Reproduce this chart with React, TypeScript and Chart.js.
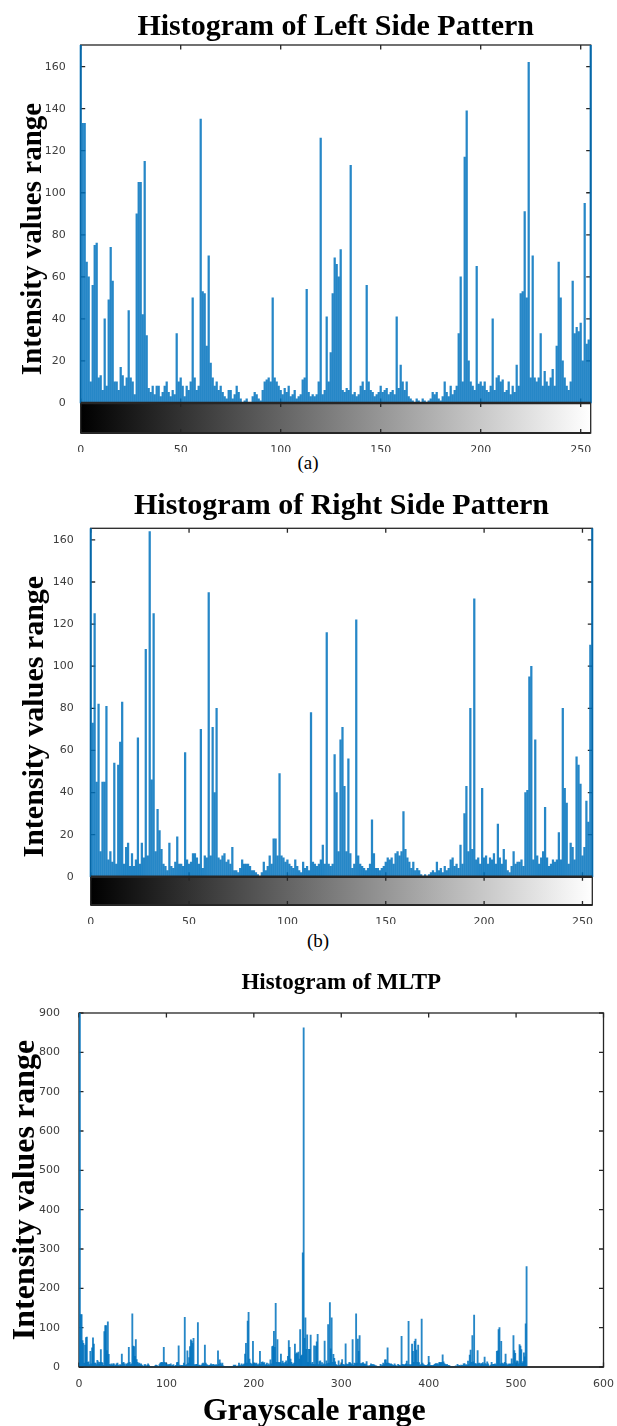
import React, { useEffect, useRef } from 'react';
import { Chart, registerables } from 'chart.js';

Chart.register(...registerables);

// ---------- data ----------
// Histogram of Left Side Pattern, bins 0..255
const leftValues = [
  950, 133, 133, 67, 60, 10, 56, 75, 76, 12, 13, 6, 40, 8, 49, 74,
  58, 10, 10, 6, 17, 13, 8, 12, 44, 12, 10, 4, 90, 105, 105, 42,
  115, 32, 7, 5, 8, 4, 8, 8, 3, 5, 8, 10, 5, 3, 6, 4,
  33, 10, 12, 8, 3, 8, 6, 10, 50, 12, 6, 8, 135, 53, 52, 27,
  70, 19, 12, 8, 10, 6, 8, 5, 3, 2, 6, 6, 2, 4, 8, 5,
  2, 0, 1, 2, 0, 0, 3, 5, 4, 2, 1, 6, 10, 11, 12, 10,
  50, 12, 10, 8, 6, 4, 7, 5, 8, 3, 4, 6, 2, 3, 4, 11,
  12, 54, 5, 3, 4, 3, 4, 10, 126, 4, 6, 41, 10, 24, 52, 69,
  66, 60, 73, 6, 5, 7, 6, 113, 4, 5, 3, 4, 8, 10, 6, 56,
  10, 6, 5, 3, 4, 5, 8, 5, 6, 7, 4, 5, 6, 4, 41, 7,
  18, 10, 6, 10, 3, 2, 1, 0, 2, 1, 0, 2, 1, 0, 1, 2,
  5, 4, 5, 2, 1, 3, 10, 5, 3, 8, 4, 6, 8, 33, 60, 10,
  117, 139, 20, 10, 8, 6, 65, 9, 10, 8, 10, 6, 5, 8, 40, 6,
  12, 13, 10, 11, 5, 6, 10, 4, 8, 5, 18, 8, 52, 53, 91, 50,
  162, 12, 70, 12, 10, 12, 33, 8, 15, 10, 8, 12, 16, 8, 27, 67,
  50, 20, 12, 8, 6, 10, 58, 33, 36, 34, 38, 20, 95, 28, 30, 290,
];

// Histogram of Right Side Pattern, bins 0..255
const rightValues = [
  862, 73, 125, 45, 82, 12, 45, 45, 81, 8, 12, 7, 54, 6, 53, 64,
  83, 6, 14, 16, 5, 11, 5, 8, 66, 6, 16, 9, 108, 10, 164, 46,
  125, 12, 32, 22, 13, 6, 5, 3, 16, 5, 4, 7, 19, 6, 6, 5,
  59, 8, 6, 7, 11, 11, 9, 6, 70, 4, 10, 9, 135, 10, 71, 40,
  80, 9, 8, 10, 11, 7, 8, 6, 14, 3, 3, 2, 4, 8, 6, 6,
  6, 5, 3, 3, 2, 1, 0, 2, 7, 3, 5, 10, 6, 18, 18, 10,
  49, 10, 9, 7, 8, 6, 5, 4, 8, 5, 3, 2, 7, 4, 5, 3,
  78, 7, 6, 5, 6, 8, 15, 6, 116, 6, 5, 6, 58, 40, 12, 65,
  71, 43, 12, 56, 11, 4, 6, 122, 10, 6, 5, 4, 3, 4, 6, 27,
  11, 4, 4, 3, 4, 5, 7, 9, 8, 9, 6, 11, 12, 10, 12, 31,
  13, 9, 7, 4, 7, 3, 4, 3, 1, 0, 1, 0, 1, 2, 3, 2,
  7, 3, 4, 2, 5, 3, 4, 8, 9, 5, 6, 4, 15, 6, 30, 43,
  12, 80, 13, 132, 8, 9, 6, 42, 9, 10, 6, 9, 8, 11, 6, 25,
  9, 6, 13, 8, 3, 2, 5, 12, 6, 7, 7, 8, 5, 40, 41, 95,
  100, 8, 65, 10, 6, 9, 12, 33, 9, 5, 6, 8, 7, 8, 21, 8,
  80, 42, 35, 6, 16, 14, 8, 57, 53, 44, 10, 14, 36, 26, 110, 255,
];

// MLTP histogram: the left histogram followed by the right one (bins 1..512)
const mltpValues = [...leftValues, ...rightValues];

const patternBins = leftValues.map((_, i) => i);
const mltpBins = mltpValues.map((_, i) => i + 1);

const patternXTicks = [0, 50, 100, 150, 200, 250];
const patternYTicks = [0, 20, 40, 60, 80, 100, 120, 140, 160];
const mltpXTicks = [0, 100, 200, 300, 400, 500, 600];
const mltpYTicks = [0, 100, 200, 300, 400, 500, 600, 700, 800, 900];

// ---------- styles ----------
const BAR_COLOR = 'rgba(0, 114, 189, 0.85)';
const AXIS_COLOR = '#262626';
const TICK_COLOR = '#3c3c3c';
const SERIF = "'Liberation Serif', 'Times New Roman', serif";
const TICK_FONT = { family: "'DejaVu Sans', sans-serif", size: 11 };

const framePlugin = {
  id: 'matlabFrame',
  beforeDatasetsDraw(chart: any, _args: any, opts: any) {
    const { ctx, chartArea: a, scales } = chart;
    const xs = scales.x;
    const ys = scales.y;
    const yBase = opts.colorbar ? ys.getPixelForValue(0) : a.bottom;
    const tl = opts.tickLen;
    ctx.save();
    if (opts.colorbar) {
      const x0 = xs.getPixelForValue(opts.xMin);
      const x1 = xs.getPixelForValue(opts.xMax);
      const g = ctx.createLinearGradient(x0, 0, x1, 0);
      g.addColorStop(0, '#000000');
      g.addColorStop(1, '#ffffff');
      ctx.fillStyle = g;
      ctx.fillRect(x0, yBase, x1 - x0, a.bottom - yBase);
    }
    ctx.strokeStyle = AXIS_COLOR;
    ctx.lineWidth = 1.3;
    ctx.strokeRect(a.left, a.top, a.right - a.left, a.bottom - a.top);
    ctx.beginPath();
    for (const v of opts.xTicks) {
      const px = xs.getPixelForValue(v);
      ctx.moveTo(px, a.top);
      ctx.lineTo(px, a.top + tl);
      ctx.moveTo(px, yBase);
      ctx.lineTo(px, yBase - tl);
      if (opts.colorbar) {
        ctx.moveTo(px, yBase);
        ctx.lineTo(px, yBase + 4);
        ctx.moveTo(px, a.bottom);
        ctx.lineTo(px, a.bottom - 4);
      }
    }
    for (const v of opts.yTicks) {
      const py = ys.getPixelForValue(v);
      ctx.moveTo(a.left, py);
      ctx.lineTo(a.left + tl, py);
      ctx.moveTo(a.right, py);
      ctx.lineTo(a.right - tl, py);
    }
    ctx.stroke();
    ctx.restore();
  },
  afterDatasetsDraw(chart: any, _args: any, opts: any) {
    const { ctx, chartArea: a, scales } = chart;
    ctx.save();
    ctx.strokeStyle = AXIS_COLOR;
    if (opts.colorbar) {
      const yBase = scales.y.getPixelForValue(0);
      ctx.lineWidth = 2.6;
      ctx.beginPath();
      ctx.moveTo(a.left, yBase);
      ctx.lineTo(a.right, yBase);
      ctx.stroke();
      ctx.lineWidth = 2;
      ctx.beginPath();
      ctx.moveTo(a.left, a.bottom);
      ctx.lineTo(a.right, a.bottom);
      ctx.stroke();
    } else {
      ctx.lineWidth = 1.5;
      ctx.beginPath();
      ctx.moveTo(a.left, a.bottom);
      ctx.lineTo(a.right, a.bottom);
      ctx.stroke();
    }
    ctx.restore();
  },
  afterDraw(chart: any, _args: any, opts: any) {
    if (!opts.xTitle) return;
    const { ctx, chartArea: a } = chart;
    ctx.save();
    ctx.fillStyle = '#000';
    ctx.font = `bold ${opts.xTitle.size}px ${SERIF}`;
    ctx.textAlign = 'center';
    ctx.textBaseline = 'middle';
    ctx.fillText(opts.xTitle.text, (a.left + a.right) / 2 + opts.xTitle.dx, opts.xTitle.y);
    ctx.restore();
  },
};

type HistSpec = {
  bins: number[];
  values: number[];
  title: string;
  titleSize: number;
  titleTop: number;
  titleBottom: number;
  xMin: number;
  xMax: number;
  yMin: number;
  yMax: number;
  xTicks: number[];
  yTicks: number[];
  yAxisWidth: number;
  xAxisHeight: number;
  padRight: number;
  yTickPad: number;
  xTickPad: number;
  yTitleSize: number;
  yTitlePad: number;
  barThickness: number;
  colorbar: boolean;
  xTitle?: { text: string; size: number; dx: number; y: number };
};

function buildConfig(s: HistSpec): any {
  return {
    type: 'bar',
    data: {
      datasets: [
        {
          data: s.bins.map((b, i) => ({ x: b, y: s.values[i] })),
          backgroundColor: BAR_COLOR,
          borderWidth: 0,
          barThickness: s.barThickness,
          clip: { left: 1.5, right: 1.5, top: 0, bottom: 0 },
        },
      ],
    },
    options: {
      animation: false,
      responsive: false,
      maintainAspectRatio: false,
      events: [],
      layout: { padding: { left: 0, right: s.padRight, top: 0, bottom: 0 } },
      plugins: {
        legend: { display: false },
        tooltip: { enabled: false },
        title: {
          display: true,
          text: s.title,
          fullSize: false,
          color: '#000',
          font: { family: SERIF, size: s.titleSize, weight: 'bold' },
          padding: { top: s.titleTop, bottom: s.titleBottom },
        },
        matlabFrame: {
          colorbar: s.colorbar,
          xMin: s.xMin,
          xMax: s.xMax,
          xTicks: s.xTicks,
          yTicks: s.yTicks,
          tickLen: 4.5,
          xTitle: s.xTitle,
        },
      },
      scales: {
        x: {
          type: 'linear',
          min: s.xMin,
          max: s.xMax,
          offset: false,
          grid: { display: false },
          border: { display: false },
          ticks: {
            font: TICK_FONT,
            color: TICK_COLOR,
            padding: s.xTickPad,
            maxRotation: 0,
            autoSkip: false,
          },
          afterBuildTicks: (scale: any) => {
            scale.ticks = s.xTicks.map((v) => ({ value: v }));
          },
          afterFit: (scale: any) => {
            scale.height = s.xAxisHeight;
          },
        },
        y: {
          type: 'linear',
          min: s.yMin,
          max: s.yMax,
          grid: { display: false },
          border: { display: false },
          ticks: {
            font: TICK_FONT,
            color: TICK_COLOR,
            padding: s.yTickPad,
          },
          afterBuildTicks: (scale: any) => {
            scale.ticks = s.yTicks.map((v) => ({ value: v }));
          },
          afterFit: (scale: any) => {
            scale.width = s.yAxisWidth;
          },
          title: {
            display: true,
            text: 'Intensity values range',
            color: '#000',
            font: { family: SERIF, size: s.yTitleSize, weight: 'bold' },
            padding: { top: s.yTitlePad, bottom: 0 },
          },
        },
      },
    },
    plugins: [framePlugin],
  };
}

function HistCanvas({ spec, top, height }: { spec: HistSpec; top: number; height: number }) {
  const ref = useRef<HTMLCanvasElement | null>(null);
  useEffect(() => {
    if (!ref.current) return;
    const chart = new Chart(ref.current, buildConfig(spec));
    return () => chart.destroy();
  }, [spec]);
  return (
    <canvas
      ref={ref}
      width={617}
      height={height}
      style={{ position: 'absolute', left: 0, top, width: 617, height }}
    />
  );
}

const leftSpec: HistSpec = {
  bins: patternBins,
  values: leftValues,
  title: 'Histogram of Left Side Pattern',
  titleSize: 30,
  titleTop: 9,
  titleBottom: 0,
  xMin: 0,
  xMax: 255,
  yMin: -14.3,
  yMax: 170.3,
  xTicks: patternXTicks,
  yTicks: patternYTicks,
  yAxisWidth: 80.7,
  xAxisHeight: 19,
  padRight: 26.3,
  yTickPad: 7,
  xTickPad: 3,
  yTitleSize: 29,
  yTitlePad: 16,
  barThickness: 1.6,
  colorbar: true,
};

const rightSpec: HistSpec = {
  bins: patternBins,
  values: rightValues,
  title: 'Histogram of Right Side Pattern',
  titleSize: 30,
  titleTop: 8,
  titleBottom: 4.3,
  xMin: 0,
  xMax: 255,
  yMin: -13.4,
  yMax: 165.5,
  xTicks: patternXTicks,
  yTicks: patternYTicks,
  yAxisWidth: 90.7,
  xAxisHeight: 19,
  padRight: 24.7,
  yTickPad: 9,
  xTickPad: 3,
  yTitleSize: 30,
  yTitlePad: 17,
  barThickness: 1.6,
  colorbar: true,
};

const mltpSpec: HistSpec = {
  bins: mltpBins,
  values: mltpValues,
  title: 'Histogram of MLTP',
  titleSize: 23,
  titleTop: 14,
  titleBottom: 16.4,
  xMin: 0,
  xMax: 600,
  yMin: 0,
  yMax: 900,
  xTicks: mltpXTicks,
  yTicks: mltpYTicks,
  yAxisWidth: 79,
  xAxisHeight: 59,
  padRight: 12,
  yTickPad: 11,
  xTickPad: 3,
  yTitleSize: 32,
  yTitlePad: 7,
  barThickness: 1.2,
  colorbar: false,
  xTitle: { text: 'Grayscale range', size: 32, dx: -27, y: 457 },
};

const captionStyle: React.CSSProperties = {
  position: 'absolute',
  fontFamily: SERIF,
  fontSize: 19,
  color: '#000',
  lineHeight: '22px',
  transform: 'translate(-50%, -50%)',
  whiteSpace: 'nowrap',
};

export default function App() {
  return (
    <div
      style={{
        position: 'absolute',
        left: 0,
        top: 0,
        width: 617,
        height: 1426,
        overflow: 'hidden',
        background: '#fff',
      }}
    >
      <HistCanvas spec={leftSpec} top={0} height={452} />
      <div style={{ ...captionStyle, left: 308, top: 463 }}>(a)</div>
      <HistCanvas spec={rightSpec} top={480} height={444} />
      <div style={{ ...captionStyle, left: 318, top: 941 }}>(b)</div>
      <HistCanvas spec={mltpSpec} top={955} height={471} />
    </div>
  );
}
